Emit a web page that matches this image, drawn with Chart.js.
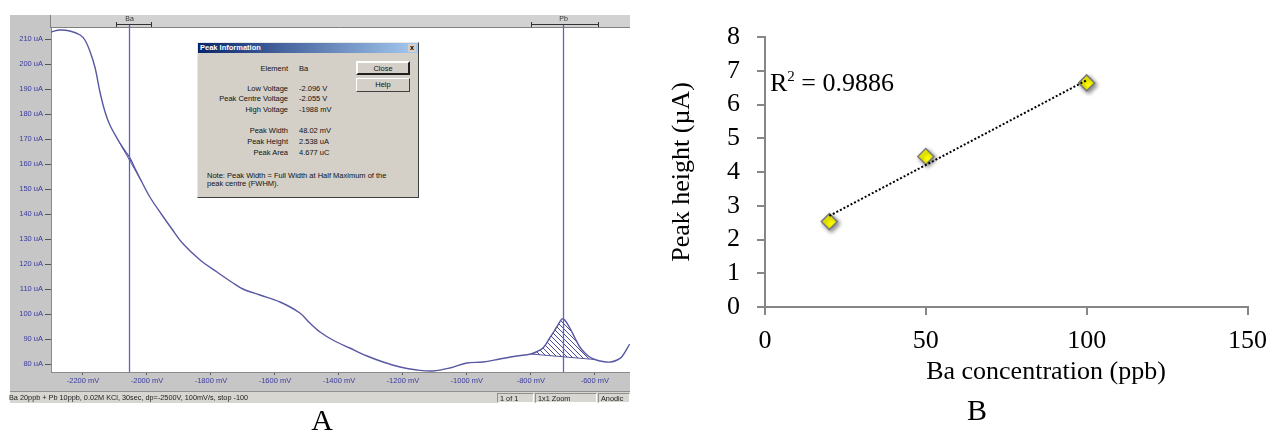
<!DOCTYPE html>
<html>
<head>
<meta charset="utf-8">
<script src="https://cdn.jsdelivr.net/npm/chart.js@4.4.1/dist/chart.umd.min.js"></script>
<style>
body{margin:0;background:#fff;width:1278px;height:433px;overflow:hidden;position:relative;font-family:"Liberation Sans",Arial,sans-serif}
.abs{position:absolute;white-space:nowrap}
#panelA{position:absolute;left:10px;top:15px;width:620px;height:388px;filter:blur(0.3px)}
#chartA{position:absolute;left:0;top:0}
#dlg{position:absolute;left:187px;top:27px;width:220px;height:154px;background:#d4d0c8;border:1px solid;border-color:#e8e8e8 #404040 #404040 #e8e8e8;font-size:7.5px;color:#111}
#dlg .t{position:absolute;left:0;top:0;width:220px;height:10px;background:linear-gradient(90deg,#0a246a,#a6caf0);color:#fff;font-weight:bold;line-height:10px;padding-left:2px;box-sizing:border-box}
#dlg .x{position:absolute;right:2px;top:1px;width:8px;height:8px;background:#d4d0c8;color:#000;font-size:7px;line-height:8px;text-align:center;font-weight:bold}
#dlg .l{position:absolute;left:0;width:90px;text-align:right;line-height:9px}
#dlg .v{position:absolute;left:101px;line-height:9px}
#dlg .n{position:absolute;left:9px;line-height:8px}
#dlg .b{position:absolute;left:158px;width:54px;height:14px;box-sizing:border-box;border:1px solid;border-color:#fff #404040 #404040 #fff;text-align:center;line-height:12px}
#status{position:absolute;left:0;top:376px;width:620px;height:12px;background:#d8d6d0;font-size:7.3px;color:#222;border-top:1px solid #909090;box-sizing:border-box}
#status div{position:absolute;top:1px;height:10px;line-height:10px;box-sizing:border-box;border:1px solid;border-color:#909090 #fff #fff #909090;padding-left:2px;overflow:hidden;white-space:nowrap}
#chartB{position:absolute;left:640px;top:0}
.serif{font-family:"Liberation Serif","Times New Roman",serif;color:#000}
</style>
</head>
<body>

<div id="panelA">
  <canvas id="chartA" width="620" height="376"></canvas>
  <div id="dlg">
    <div class="t">Peak Information</div>
    <div class="x">x</div>
    <div class="l" style="top:21px">Element</div><div class="v" style="top:21px">Ba</div>
    <div class="l" style="top:41px">Low Voltage</div><div class="v" style="top:41px">-2.096 V</div>
    <div class="l" style="top:51px">Peak Centre Voltage</div><div class="v" style="top:51px">-2.055 V</div>
    <div class="l" style="top:62px">High Voltage</div><div class="v" style="top:62px">-1988 mV</div>
    <div class="l" style="top:83px">Peak Width</div><div class="v" style="top:83px">48.02 mV</div>
    <div class="l" style="top:94px">Peak Height</div><div class="v" style="top:94px">2.538 uA</div>
    <div class="l" style="top:105px">Peak Area</div><div class="v" style="top:105px">4.677 uC</div>
    <div class="n" style="top:129px">Note: Peak Width = Full Width at Half Maximum of the</div>
    <div class="n" style="top:137px">peak centre (FWHM).</div>
    <div class="b" style="top:18px;border:2px solid;border-color:#fff #202020 #202020 #fff">Close</div>
    <div class="b" style="top:35px">Help</div>
  </div>
  <div id="status">
    <div style="left:-3px;width:490px;border:none">Ba 20ppb + Pb 10ppb, 0.02M KCl, 30sec, dp=-2500V, 100mV/s, stop -100</div>
    <div style="left:487px;width:37px">1 of 1</div>
    <div style="left:525px;width:62px">1x1 Zoom</div>
    <div style="left:588px;width:32px">Anodic</div>
  </div>
</div>

<canvas id="chartB" width="638" height="433"></canvas>

<div class="abs serif" style="left:770px;top:70px;font-size:26px;line-height:26px">R<span style="font-size:15px;position:relative;top:-10px">2</span> = 0.9886</div>
<div class="abs serif" style="left:846px;top:358px;width:400px;text-align:center;font-size:26px;line-height:26px">Ba concentration (ppb)</div>
<div class="abs serif" style="left:877px;top:395px;width:200px;text-align:center;font-size:30px;line-height:30px">B</div>
<div class="abs serif" style="left:222px;top:405px;width:200px;text-align:center;font-size:30px;line-height:30px">A</div>

<script>
// panel A - stripping voltammogram
const curveMv = [-2300, -2272, -2241, -2209, -2194, -2178, -2162, -2147, -2131, -2116, -2094, -2075, -2053, -2038, -2016, -1991, -1953, -1922, -1888, -1834, -1781, -1731, -1700, -1647, -1584, -1522, -1491, -1459, -1419, -1366, -1312, -1262, -1209, -1156, -1106, -1053, -1000, -950, -897, -844, -800, -780, -762, -741, -719, -703, -694, -678, -662, -647, -631, -616, -600, -575, -550, -530, -516, -491]
const curveUa = [212.8, 213.6, 213.2, 211.6, 209.6, 205.0, 198.4, 188.8, 180.8, 175.6, 170.4, 166.4, 162.4, 158.4, 152.8, 146.8, 139.6, 134.0, 128.2, 121.6, 116.8, 112.4, 110.0, 107.6, 104.8, 100.4, 96.4, 92.8, 89.6, 86.4, 83.2, 80.8, 78.8, 77.6, 77.2, 78.4, 80.4, 80.8, 82.0, 83.2, 84.0, 85.0, 86.4, 90.4, 94.8, 98.0, 97.6, 94.4, 90.4, 86.8, 84.4, 82.8, 81.8, 81.0, 80.8, 81.6, 82.8, 88.0]
const baBaseMv = [-2094, -2016]
const baBaseUa = [170.4, 152.8]
const pbBaseMv = [-800, -600]
const pbBaseUa = [84.0, 81.8]
const markerNames = ["Ba", "Pb"]
const markerLow = [-2096, -800]
const markerCentre = [-2055, -700]
const markerHigh = [-1988, -590]
const ticksMv = [-2200, -2000, -1800, -1600, -1400, -1200, -1000, -800, -600]
const ticksUa = [80, 90, 100, 110, 120, 130, 140, 150, 160, 170, 180, 190, 200, 210]

// panel B - calibration
const concPpb = [20, 50, 100]
const peakHeight = [2.53, 4.46, 6.64]
const trendPpb = [20, 100]
const trendHeight = [2.70, 6.72]
const ticksPpb = [0, 50, 100, 150]
const ticksHeight = [0, 1, 2, 3, 4, 5, 6, 7, 8]

const lineBlue = "#5858a4"
const labelBlue = "#3a3aa0"
const smooth = 0.35

const curve = curveMv.map((v, i) => ({x: v, y: curveUa[i]}))
const pts = (xs, ys) => xs.map((v, i) => ({x: v, y: ys[i]}))
const between = (lo, hi) => curve.filter(p => p.x >= lo && p.x <= hi)

function hatch(color) {
    const c = document.createElement("canvas")
    c.width = 5
    c.height = 5
    const g = c.getContext("2d")
    g.strokeStyle = color
    g.lineWidth = 1
    g.beginPath()
    g.moveTo(0, 0); g.lineTo(5, 5)
    g.moveTo(-1, 4); g.lineTo(1, 6)
    g.moveTo(4, -1); g.lineTo(6, 1)
    g.stroke()
    return g.createPattern(c, "repeat")
}
const pattern = hatch("#4a4a98")

const screenPlugin = {
    id: "screen",
    beforeDraw(chart) {
        const {ctx, chartArea: a, width, height} = chart
        ctx.save()
        ctx.fillStyle = "#c6c6c6"
        ctx.fillRect(0, 0, width, height)
        ctx.fillStyle = "#d2d2d2"
        ctx.fillRect(a.left, 0, a.right - a.left, a.top)
        ctx.fillStyle = "#fff"
        ctx.fillRect(a.left, a.top, a.right - a.left, a.bottom - a.top)
        ctx.strokeStyle = "#808080"
        ctx.lineWidth = 1
        ctx.beginPath()
        ctx.moveTo(a.left, a.top - 0.5); ctx.lineTo(a.right, a.top - 0.5)
        ctx.moveTo(a.left - 0.5, 0); ctx.lineTo(a.left - 0.5, a.top)
        ctx.stroke()
        ctx.restore()
    },
    afterDatasetsDraw(chart) {
        const {ctx, chartArea: a, scales: {x}} = chart
        ctx.save()
        markerNames.forEach((name, i) => {
            const xc = Math.round(x.getPixelForValue(markerCentre[i])) + 0.5
            const xl = Math.round(x.getPixelForValue(markerLow[i])) + 0.5
            const xh = Math.round(x.getPixelForValue(markerHigh[i])) + 0.5
            ctx.strokeStyle = "#6060c0"
            ctx.lineWidth = 1.3
            ctx.beginPath()
            ctx.moveTo(xc, 9); ctx.lineTo(xc, a.bottom)
            ctx.stroke()
            ctx.strokeStyle = "#333"
            ctx.lineWidth = 1
            ctx.beginPath()
            ctx.moveTo(xl, 9.5); ctx.lineTo(xh, 9.5)
            ctx.moveTo(xl, 7); ctx.lineTo(xl, 12)
            ctx.moveTo(xh, 7); ctx.lineTo(xh, 12)
            ctx.stroke()
            ctx.fillStyle = "#333"
            ctx.font = "7px 'Liberation Sans'"
            ctx.textAlign = "center"
            ctx.textBaseline = "middle"
            ctx.fillText(name, xc, 4)
        })
        ctx.restore()
    }
}

new Chart(document.getElementById("chartA"), {
    type: "line",
    data: {
        datasets: [{
            data: curve,
            borderColor: lineBlue,
            borderWidth: 1.4,
            pointRadius: 0,
            tension: smooth,
            order: 0
        }, {
            data: between(pbBaseMv[0], pbBaseMv[1]),
            borderWidth: 0,
            pointRadius: 0,
            tension: smooth,
            backgroundColor: pattern,
            fill: "+1",
            order: 1
        }, {
            data: pts(pbBaseMv, pbBaseUa),
            borderColor: lineBlue,
            borderWidth: 1,
            pointRadius: 0,
            order: 1
        }, {
            data: between(baBaseMv[0], baBaseMv[1]),
            borderWidth: 0,
            pointRadius: 0,
            tension: smooth,
            backgroundColor: pattern,
            fill: "+1",
            order: 1
        }, {
            data: pts(baBaseMv, baBaseUa),
            borderColor: lineBlue,
            borderWidth: 1,
            pointRadius: 0,
            order: 1
        }]
    },
    options: {
        responsive: false,
        animation: false,
        layout: {padding: {top: 13, left: 0, right: 0, bottom: 0}},
        plugins: {legend: {display: false}, tooltip: {enabled: false}},
        scales: {
            x: {
                type: "linear",
                min: -2300,
                max: -490,
                afterBuildTicks: s => { s.ticks = ticksMv.map(v => ({value: v})) },
                afterFit: s => { s.height = 19 },
                grid: {drawOnChartArea: false, tickLength: 3, color: "#555"},
                border: {color: "#8a8a8a"},
                ticks: {
                    callback: v => v + " mV",
                    color: labelBlue,
                    padding: 1,
                    maxRotation: 0,
                    autoSkip: false,
                    font: {family: "Liberation Sans", size: 7.5}
                }
            },
            y: {
                min: 76.8,
                max: 214.4,
                afterBuildTicks: s => { s.ticks = ticksUa.map(v => ({value: v})) },
                afterFit: s => { s.width = 41 },
                grid: {drawOnChartArea: false, tickLength: 6, color: "#555"},
                border: {color: "#8a8a8a"},
                ticks: {
                    callback: v => v + " uA",
                    color: labelBlue,
                    padding: 2,
                    autoSkip: false,
                    font: {family: "Liberation Sans", size: 7.5}
                }
            }
        }
    },
    plugins: [screenPlugin]
})

const shadowPlugin = {
    id: "shadow",
    beforeDatasetDraw(chart, args) {
        if (args.index !== 1) return
        const ctx = chart.ctx
        ctx.save()
        ctx.shadowColor = "rgba(0,0,0,0.45)"
        ctx.shadowBlur = 4
        ctx.shadowOffsetX = 2
        ctx.shadowOffsetY = 2
    },
    afterDatasetDraw(chart, args) {
        if (args.index !== 1) return
        chart.ctx.restore()
    }
}

const serif = "Liberation Serif"
const axisGrey = "#868686"

new Chart(document.getElementById("chartB"), {
    type: "scatter",
    data: {
        datasets: [{
            data: pts(trendPpb, trendHeight),
            showLine: true,
            borderColor: "#000",
            borderWidth: 2,
            borderDash: [2, 2],
            pointRadius: 0,
            order: 0
        }, {
            data: pts(concPpb, peakHeight),
            pointStyle: "rectRot",
            pointRadius: 8,
            backgroundColor: "#ffff00",
            borderColor: "#7a7a7a",
            borderWidth: 1.5,
            order: 1
        }]
    },
    options: {
        responsive: false,
        animation: false,
        layout: {padding: {top: 37, left: 0, right: 23, bottom: 0}},
        plugins: {legend: {display: false}, tooltip: {enabled: false}},
        scales: {
            x: {
                min: 0,
                max: 150,
                afterBuildTicks: s => { s.ticks = ticksPpb.map(v => ({value: v})) },
                afterFit: s => { s.height = 126 },
                grid: {drawOnChartArea: false, tickLength: 8, lineWidth: 2, color: axisGrey},
                border: {color: axisGrey, width: 2},
                ticks: {color: "#000", padding: 11, maxRotation: 0, autoSkip: false, font: {family: serif, size: 26}}
            },
            y: {
                min: 0,
                max: 8,
                afterBuildTicks: s => { s.ticks = ticksHeight.map(v => ({value: v})) },
                afterFit: s => { s.width = 125 },
                grid: {drawOnChartArea: false, tickLength: 8, lineWidth: 2, color: axisGrey},
                border: {color: axisGrey, width: 2},
                ticks: {color: "#000", padding: 17, autoSkip: false, font: {family: serif, size: 26}},
                title: {
                    display: true,
                    text: "Peak height (µA)",
                    color: "#000",
                    padding: {top: 27, bottom: 0},
                    font: {family: serif, size: 26}
                }
            }
        }
    },
    plugins: [shadowPlugin]
})
</script>
</body>
</html>
